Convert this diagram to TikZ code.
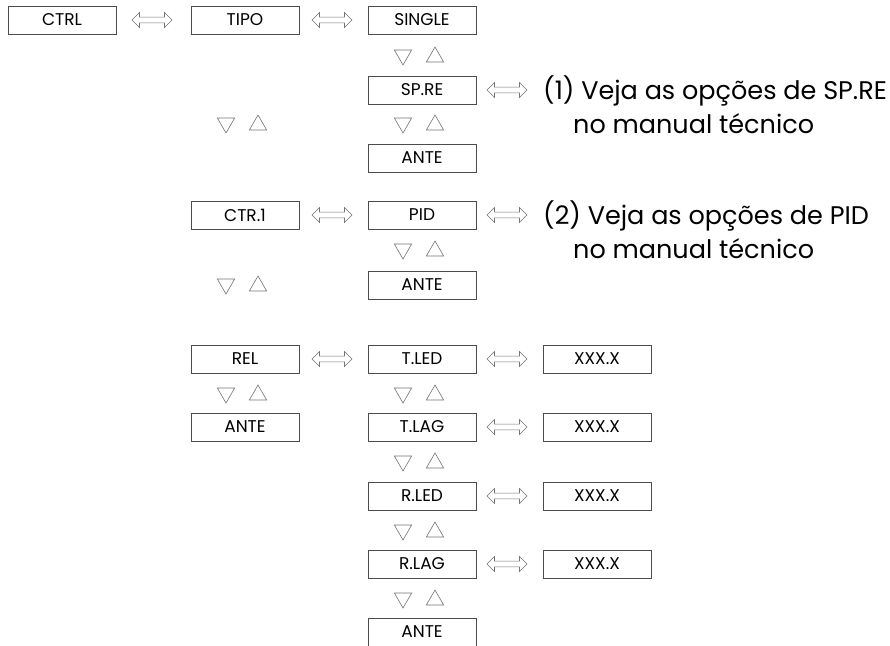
\documentclass[tikz,border=0pt]{standalone}
\usepackage{fontspec}
\setmainfont{Poppins}
\usepackage{tikz}
\usetikzlibrary{shapes.arrows, shapes.geometric, positioning}

\begin{document}
\begin{tikzpicture}[x=1pt, y=-1pt,
		menubox/.style={draw=black!70, line width=0.9pt, minimum width=108pt, minimum height=28pt, inner sep=0pt, font=\fontsize{17}{17}\selectfont},
		dblarrow/.style={double arrow, draw=black!55, line width=0.6pt, minimum height=40pt, minimum width=15pt, inner sep=2.6pt, double arrow head extend=4.5pt},
		trdown/.style={regular polygon, regular polygon sides=3, draw=black!55, line width=0.6pt, minimum size=20pt, inner sep=0pt, shape border rotate=180},
		trup/.style={regular polygon, regular polygon sides=3, draw=black!55, line width=0.6pt, minimum size=20pt, inner sep=0pt},
		note/.style={anchor=west, inner sep=0pt, font=\fontsize{25.5}{25.5}\selectfont}]
		\useasboundingbox (0,0) rectangle (890,645);
		% Paths, nodes and wires:
		\node[menubox](ctrl) at (62, 20){CTRL};
		\node[menubox](tipo) at (245, 20){TIPO};
		\node[menubox](single) at (422, 20){SINGLE};
		\node[dblarrow](a1) at (152, 20){};
		\node[dblarrow](a2) at (332, 20){};
		\node[trdown](d1) at (403, 55){};
		\node[trup](u1) at (435, 57){};
		\node[menubox](spre) at (422, 90){SP.RE};
		\node[dblarrow](a3) at (507, 90){};
		\node[note](n1) at (543, 91){(1) Veja as opções de SP.RE};
		\node[note](n1b) at (573, 124){no manual técnico};
		\node[trdown](d2) at (403, 123){};
		\node[trup](u2) at (435, 125){};
		\node[trdown](d3) at (226, 123){};
		\node[trup](u3) at (258, 125){};
		\node[menubox](ante1) at (422, 158){ANTE};
		\node[menubox](ctr1) at (245, 215){CTR.1};
		\node[dblarrow](a4) at (332, 215){};
		\node[menubox](pid) at (422, 215){PID};
		\node[dblarrow](a5) at (507, 215){};
		\node[note](n2) at (543, 216){(2) Veja as opções de PID};
		\node[note](n2b) at (573, 249){no manual técnico};
		\node[trdown](d4) at (403, 249){};
		\node[trup](u4) at (435, 251){};
		\node[trdown](d5) at (226, 284){};
		\node[trup](u5) at (258, 286){};
		\node[menubox](ante2) at (422, 285){ANTE};
		\node[menubox](rel) at (245, 359){REL};
		\node[dblarrow](a6) at (332, 359){};
		\node[menubox](tled) at (422, 359){T.LED};
		\node[dblarrow](a7) at (507, 359){};
		\node[menubox](x1) at (597, 359){XXX.X};
		\node[trdown](d6) at (226, 393){};
		\node[trup](u6) at (258, 395){};
		\node[trdown](d7) at (403, 393){};
		\node[trup](u7) at (435, 395){};
		\node[menubox](ante3) at (245, 427){ANTE};
		\node[menubox](tlag) at (422, 427){T.LAG};
		\node[dblarrow](a8) at (507, 427){};
		\node[menubox](x2) at (597, 427){XXX.X};
		\node[trdown](d8) at (403, 461){};
		\node[trup](u8) at (435, 463){};
		\node[menubox](rled) at (422, 496){R.LED};
		\node[dblarrow](a9) at (507, 496){};
		\node[menubox](x3) at (597, 496){XXX.X};
		\node[trdown](d9) at (403, 530){};
		\node[trup](u9) at (435, 532){};
		\node[menubox](rlag) at (422, 564){R.LAG};
		\node[dblarrow](a10) at (507, 564){};
		\node[menubox](x4) at (597, 564){XXX.X};
		\node[trdown](d10) at (403, 598){};
		\node[trup](u10) at (435, 600){};
		\node[menubox](ante4) at (422, 632){ANTE};
	\end{tikzpicture}
\end{document}
